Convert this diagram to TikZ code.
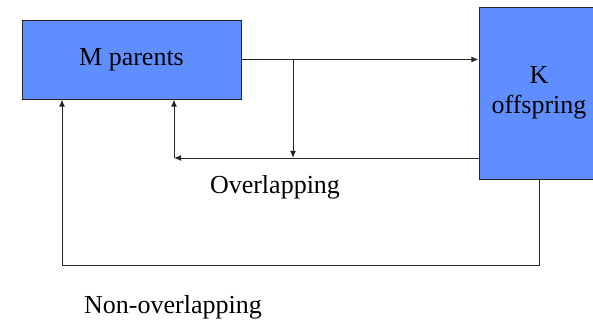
\documentclass[tikz,border=0pt]{standalone}
\usepackage{fontspec}
\setmainfont{Liberation Serif}
\usetikzlibrary{ % tikz packages
    positioning,arrows.meta
}
\definecolor{poolblue}{RGB}{95,143,255}
\tikzset{pool/.style={
    draw=black!85,
    fill=poolblue,
    align=center,
    inner sep=2pt,
    font=\fontsize{13}{15}\selectfont
}}
\tikzset{label text/.style={font=\fontsize{13}{15}\selectfont}}
\tikzset{>={Latex[length=3.6pt,width=3pt]}}

\begin{document}
\begin{tikzpicture}[x=0.5pt,y=-0.5pt,line width=0.5pt,draw=black!85]
        \useasboundingbox (0,0) rectangle (593,321);

        \node[pool,minimum width=109.5pt,minimum height=39.5pt] (par) at (131.5,59.5) {M parents};
        \node[pool,minimum width=60pt,minimum height=86pt,text depth=3pt] (off) at (539,93) {K\\offspring};

        \coordinate (split) at (293,59.5);
        \coordinate (ovl) at (174,158);
        \coordinate (nov) at (62,265);

        \node[label text] (ovltxt) at (275,187) {Overlapping};
        \node[label text] (novtxt) at (173,307) {Non-overlapping};

        \draw[->] (par.east) -- (par.east -| off.west);
        \draw[->] (split) -- (split |- ovl);
        \draw[->] (ovl -| off.west) -- (ovl);
        \draw[->] (ovl) -- (ovl |- par.south);
        \draw[->] (off.south) |- (nov) -- (nov |- par.south);
    \end{tikzpicture}
\end{document}
